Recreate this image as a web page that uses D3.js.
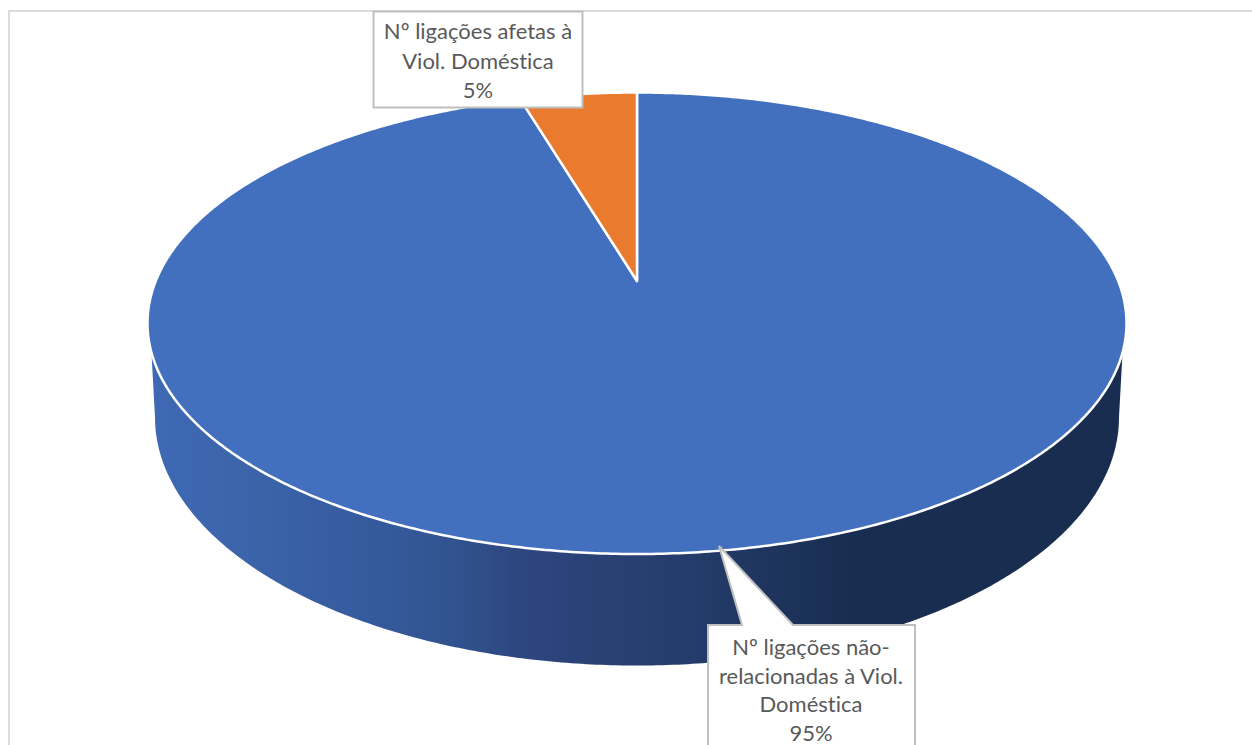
<!DOCTYPE html>
<html>
<head>
<meta charset="utf-8">
<script src="https://cdn.jsdelivr.net/npm/d3@7"></script>
<style>
  html, body { margin: 0; padding: 0; background: #fff; overflow: hidden; }
  text { font-family: Lato, "Open Sans", sans-serif; font-size: 22px; font-variant-ligatures: none; fill: #595959; text-anchor: middle; }
</style>
</head>
<body>
<div id="chart"></div>
<script>
// values, the small slice is a bit under 18 degrees
var categories = ["Nº ligações não-relacionadas à Viol. Doméstica", "Nº ligações afetas à Viol. Doméstica"];
var values = [95.4, 4.6];
var sliceColors = ["#4270bf", "#ea7b2e"];
var labelLines = [
  ["Nº ligações não-", "relacionadas à Viol.", "Doméstica"],
  ["Nº ligações afetas à", "Viol. Doméstica"]
];

var width = 1252, height = 745;

var svg = d3.select("#chart").append("svg").attr("width", width).attr("height", height);

// frame, only the left and top sides show
svg.append("path")
  .attr("d", d3.line()([[9, height], [9, 11], [width, 11]]))
  .attr("fill", "none")
  .attr("stroke", "#dcdcdc")
  .attr("stroke-width", 2);

// perspective of the pie: a circle seen from above, so the centre is not the middle of the ellipse
var tilt = 0.1826;
function rim(top, bottom, halfWidth) {
  var b = (top * (1 + tilt) + bottom * (1 - tilt)) / 2;
  var a = (top * (1 + tilt) - bottom * (1 - tilt)) / 2;
  var k = halfWidth * Math.sqrt(1 - tilt * tilt);
  return function (t) {
    var u = Math.sin(t), v = Math.cos(t), w = 1 + tilt * v;
    return [637 + k * u / w, (a * v + b) / w];
  };
}
var topRim = rim(92.5, 554, 489.5);
var bottomRim = rim(169, 665.5, 482);
var apex = [637, 281];

var line = d3.line();
var rad = Math.PI / 180;

function arcPoints(proj, a0, a1) {
  var n = Math.max(2, Math.ceil(Math.abs(a1 - a0) / (0.5 * rad)));
  return d3.range(n + 1).map(function (i) {
    return proj(a0 + (a1 - a0) * i / n);
  });
}

// side wall
var defs = svg.append("defs");
var grad = defs.append("linearGradient")
  .attr("id", "wall")
  .attr("gradientUnits", "userSpaceOnUse")
  .attr("x1", 150).attr("x2", 1125).attr("y1", 0).attr("y2", 0);
[[0, "#3f69b4"], [0.1, "#3b64aa"], [0.25, "#34599a"], [0.33, "#30508b"], [0.38, "#2d467f"], [0.46, "#2a4175"], [0.56, "#243c69"], [0.64, "#1e345c"], [0.72, "#192d50"], [1, "#192d50"]]
  .forEach(function (s) {
    grad.append("stop").attr("offset", s[0]).attr("stop-color", s[1]);
  });

var wallPoints = arcPoints(topRim, 107.6 * rad, 252.4 * rad)
  .concat(arcPoints(bottomRim, 259.5 * rad, 100.5 * rad));
svg.append("path")
  .attr("d", line(wallPoints) + "Z")
  .attr("fill", "url(#wall)");

// top of the pie
var pie = d3.pie().sort(null).startAngle(0).endAngle(2 * Math.PI);
var slices = pie(values);

svg.selectAll("path.slice")
  .data(slices)
  .enter()
  .append("path")
  .attr("class", "slice")
  .attr("d", function (d) {
    return line([apex].concat(arcPoints(topRim, d.startAngle, d.endAngle))) + "Z";
  })
  .attr("fill", function (d, i) { return sliceColors[i]; })
  .attr("stroke", "#fff")
  .attr("stroke-width", 2.5)
  .attr("stroke-linejoin", "round");

// callouts
var pct = d3.format(".0%");
var total = d3.sum(values);

var box1 = svg.append("g");
box1.append("path")
  .attr("d", "M373.5,11.5H582.5V107.5H373.5Z")
  .attr("fill", "#fff").attr("stroke", "#bfbfbf").attr("stroke-width", 2);
labelLines[1].concat(pct(values[1] / total)).forEach(function (t, i) {
  box1.append("text").attr("x", 478).attr("y", 39 + i * 29.5).text(t);
});

var box0 = svg.append("g");
box0.append("path")
  .attr("d", "M708,625H742L719,546L793,625H915V760H708Z")
  .attr("fill", "#fff").attr("stroke", "#bfbfbf").attr("stroke-width", 2);
labelLines[0].concat(pct(values[0] / total)).forEach(function (t, i) {
  box0.append("text").attr("x", 811).attr("y", 655 + i * 28.5).text(t);
});
</script>
</body>
</html>
